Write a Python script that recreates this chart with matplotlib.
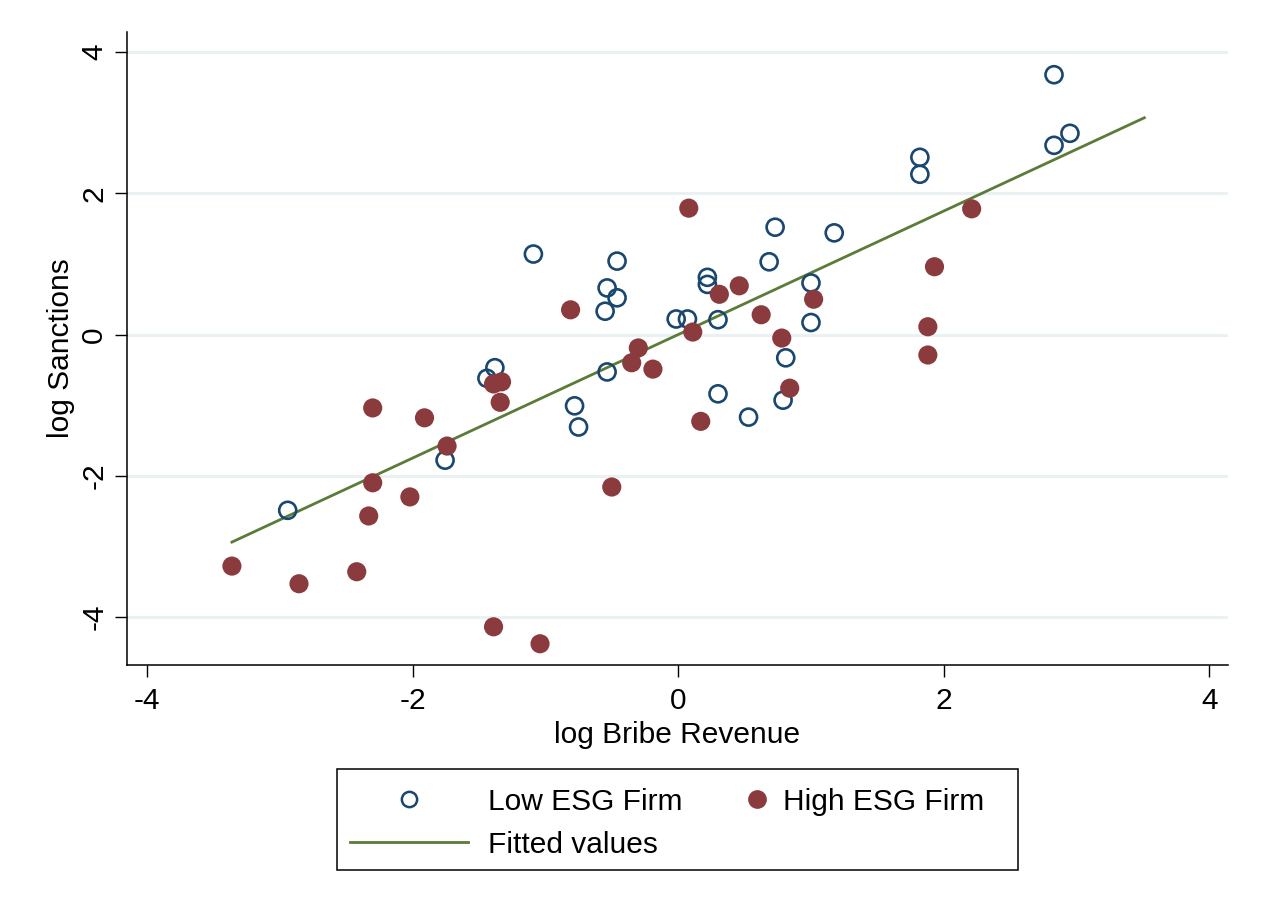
import numpy as np
import matplotlib.pyplot as plt
from matplotlib.patches import Rectangle

plt.rcParams['font.family'] = ['Liberation Sans', 'DejaVu Sans']
plt.rcParams['axes.unicode_minus'] = False

# Low ESG firms (hollow)
low_x = [-2.94, -1.755, -1.44, -1.38, -1.09, -0.78, -0.75, -0.55, -0.535, -0.535,
         -0.46, -0.46, -0.015, 0.07, 0.22, 0.22, 0.30, 0.30, 0.53, 0.685,
         0.73, 0.79, 0.81, 1.0, 1.0, 1.175, 1.82, 1.82, 2.83, 2.83, 2.95]
low_y = [-2.49, -1.78, -0.62, -0.47, 1.14, -1.01, -1.31, 0.33, 0.66, -0.53,
         1.04, 0.52, 0.22, 0.22, 0.81, 0.71, 0.21, -0.84, -1.17, 1.03,
         1.52, -0.93, -0.33, 0.73, 0.17, 1.44, 2.51, 2.27, 3.68, 2.68, 2.85]

# High ESG firms (filled)
high_x = [-3.36, -2.855, -2.42, -2.33, -2.30, -2.30, -2.02, -1.91, -1.74, -1.39,
          -1.39, -1.33, -1.34, -1.04, -0.81, -0.50, -0.35, -0.30, -0.19, 0.08,
          0.11, 0.17, 0.31, 0.46, 0.625, 0.78, 0.84, 1.02, 1.88, 1.88, 1.93, 2.21]
high_y = [-3.28, -3.53, -3.36, -2.57, -2.10, -1.04, -2.30, -1.18, -1.58, -4.14,
          -0.70, -0.67, -0.96, -4.38, 0.35, -2.16, -0.40, -0.19, -0.49, 1.79,
          0.035, -1.23, 0.57, 0.69, 0.28, -0.05, -0.76, 0.50, 0.11, -0.29, 0.96, 1.78]

# fitted line endpoints
fit_x = [-3.36, 3.51]
fit_y = [-2.94, 3.07]

ticks = [-4, -2, 0, 2, 4]
tick_labels = ['-4', '-2', '0', '2', '4']
legend_labels = ['Low ESG Firm', 'High ESG Firm', 'Fitted values']

navy = '#1a476f'
maroon = '#8b3b3d'
olive = '#5b7b38'
fs = 21.5

W, H = 1263, 915
fig = plt.figure(figsize=(W / 100, H / 100), dpi=100)
ax = fig.add_axes([127 / W, 1 - 665 / H, (1228 - 127) / W, (665 - 32) / H])

ax.set_xlim(-4.15, 4.14)
ax.set_ylim(-4.681, 4.285)

for yv in ticks:
    ax.axhline(yv, color='#eaf1f3', lw=2.2, zorder=0)

ax.scatter(low_x, low_y, s=150, facecolors='none', edgecolors=navy,
           linewidths=1.9, zorder=3)
ax.scatter(high_x, high_y, s=190, color=maroon, edgecolors='none', zorder=3)
ax.plot(fit_x, fit_y, color=olive, lw=2, zorder=2)

ax.set_xticks(ticks)
ax.set_xticklabels(tick_labels)
ax.set_yticks(ticks)
ax.set_yticklabels(tick_labels, rotation=90, va='center')
ax.tick_params(labelsize=fs, length=8.5, width=1.0, direction='out')
ax.tick_params(axis='x', pad=7)
ax.tick_params(axis='y', pad=5)
ax.spines['top'].set_visible(False)
ax.spines['right'].set_visible(False)
ax.spines['left'].set_linewidth(1.1)
ax.spines['bottom'].set_linewidth(1.1)

ax.set_xlabel('log Bribe Revenue', fontsize=fs)
ax.set_ylabel('log Sanctions', fontsize=fs)
ax.xaxis.set_label_coords(0.5, -(721 - 665) / 633)
ax.yaxis.set_label_coords((75 - 127) / 1101, 0.5)

# legend box drawn in pixel coordinates of the figure
lg = fig.add_axes([0, 0, 1, 1])
lg.set_xlim(0, W)
lg.set_ylim(H, 0)
lg.axis('off')
lg.add_patch(Rectangle((337, 769), 1018 - 337, 870 - 769, fill=False,
                       edgecolor='black', lw=1.1))
lg.plot([409], [799], marker='o', ms=11, mfc='none', mec=navy, mew=1.8, ls='none')
lg.plot([757], [799], marker='o', ms=13.5, mfc=maroon, mec='none', ls='none')
lg.plot([350, 468], [842, 842], color=olive, lw=2)
lg.text(488, 810, legend_labels[0], fontsize=fs, va='baseline', ha='left')
lg.text(783, 810, legend_labels[1], fontsize=fs, va='baseline', ha='left')
lg.text(488, 853, legend_labels[2], fontsize=fs, va='baseline', ha='left')

fig.savefig('out.png', dpi=100, facecolor='white')
